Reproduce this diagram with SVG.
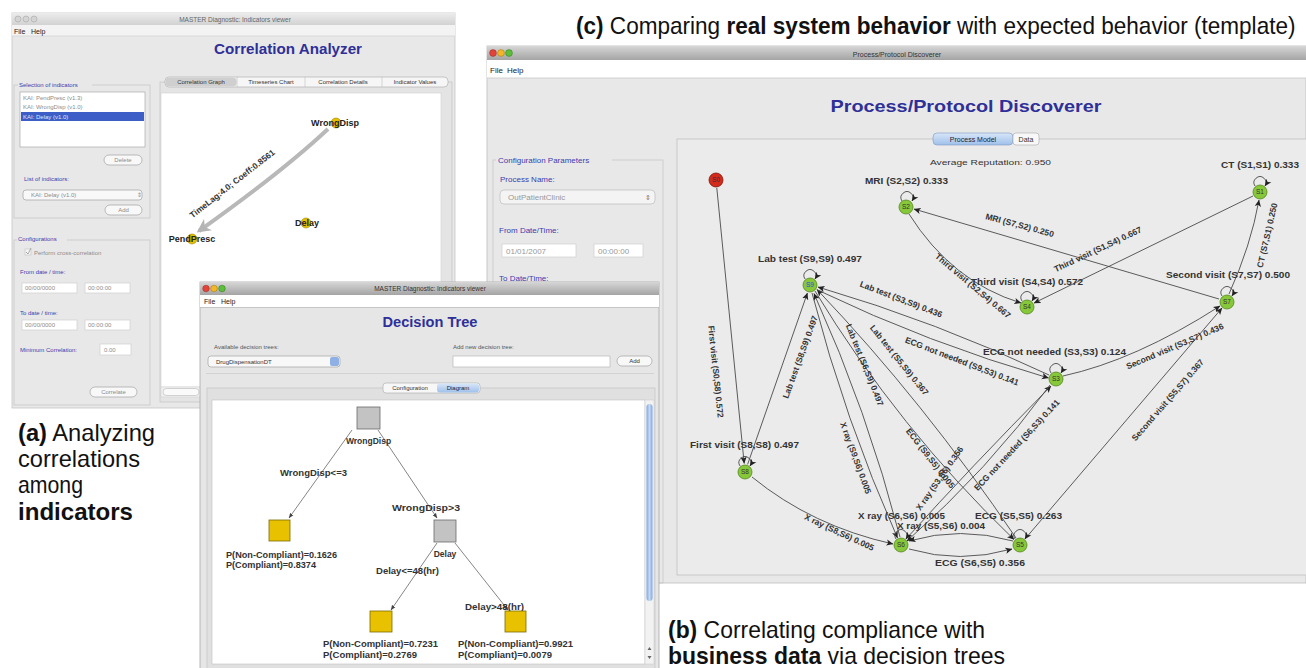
<svg xmlns="http://www.w3.org/2000/svg" width="1306" height="668" viewBox="0 0 1306 668">
<defs>
  <linearGradient id="tbIdle" x1="0" y1="0" x2="0" y2="1">
    <stop offset="0" stop-color="#ececec"/><stop offset="1" stop-color="#d2d2d2"/>
  </linearGradient>
  <linearGradient id="tbActive" x1="0" y1="0" x2="0" y2="1">
    <stop offset="0" stop-color="#d6d6d6"/><stop offset="1" stop-color="#a4a4a4"/>
  </linearGradient>
  <linearGradient id="tabSel" x1="0" y1="0" x2="0" y2="1">
    <stop offset="0" stop-color="#d8e6f8"/><stop offset="1" stop-color="#9fc0ea"/>
  </linearGradient>
  <linearGradient id="scrollBlue" x1="0" y1="0" x2="1" y2="0">
    <stop offset="0" stop-color="#7fa6e0"/><stop offset="0.5" stop-color="#c4d8f4"/><stop offset="1" stop-color="#7fa6e0"/>
  </linearGradient>
  <marker id="ah" viewBox="0 0 10 10" refX="9.5" refY="5" markerWidth="7" markerHeight="7" markerUnits="userSpaceOnUse" orient="auto">
    <path d="M0,0.5 L10,5 L0,9.5 L2.5,5 z" fill="#222"/>
  </marker>
  <marker id="tah" viewBox="0 0 10 10" refX="9.5" refY="5" markerWidth="5" markerHeight="5" markerUnits="userSpaceOnUse" orient="auto">
    <path d="M0,1 L10,5 L0,9 z" fill="#444"/>
  </marker>
  <marker id="gah" viewBox="0 0 10 10" refX="8" refY="5" markerWidth="14" markerHeight="14" markerUnits="userSpaceOnUse" orient="auto">
    <path d="M0,0 L10,5 L0,10 L3,5 z" fill="#b4b4b4"/>
  </marker>
  <style>
    text{font-family:"Liberation Sans",Arial,sans-serif}
    .s6{font-size:6px;fill:#8c8c8c}
    .s7{font-size:7px;fill:#222}
    .bl{fill:#3c3cae}
    .ttl{font-weight:bold;fill:#2f2f98;text-anchor:middle}
    .gl{font-weight:bold;font-size:8.5px;fill:#333}
    .mid{text-anchor:middle}
    .e{fill:none;stroke:#4a4a4a;stroke-width:0.9;marker-end:url(#ah)}
    .te{fill:none;stroke:#666;stroke-width:0.8;marker-end:url(#tah)}
    .nd{fill:#86c83a;stroke:#55851e;stroke-width:0.8}
    .nt{font-size:6.5px;fill:#333;text-anchor:middle}
    .btn{fill:#f8f8f8;stroke:#a2a2a2;stroke-width:0.7}
    .fld{fill:#fff;stroke:#cfcfcf;stroke-width:0.7}
    .grp{fill:none;stroke:#c8c8c8;stroke-width:0.8}
    .cap{font-size:24px;fill:#111}
    .yel{fill:#e8c200;stroke:#7d6a00;stroke-width:0.8}
    .gry{fill:#c3c3c3;stroke:#6a6a6a;stroke-width:0.8}
  </style>
</defs>

<rect width="1306" height="668" fill="#fff"/>

<!-- ===== Window: Correlation Analyzer ===== -->
<g id="win-correlation">
  <rect x="12" y="13" width="443" height="395" fill="#e8e8e8" stroke="#c6c6c6" stroke-width="0.8"/>
  <rect x="12" y="13" width="443" height="12" fill="url(#tbIdle)"/>
  <circle cx="18" cy="19" r="3" fill="#d4d4d4" stroke="#a8a8a8" stroke-width="0.6"/>
  <circle cx="26" cy="19" r="3" fill="#d4d4d4" stroke="#a8a8a8" stroke-width="0.6"/>
  <circle cx="34" cy="19" r="3" fill="#d4d4d4" stroke="#a8a8a8" stroke-width="0.6"/>
  <text x="235" y="21.5" class="mid" font-size="6.5" fill="#666">MASTER Diagnostic: Indicators viewer</text>
  <rect x="12" y="25" width="443" height="11" fill="#f3f3f3"/>
  <line x1="12" y1="36" x2="455" y2="36" stroke="#cfcfcf" stroke-width="0.6"/>
  <text x="14" y="33.5" class="s7">File</text>
  <text x="31" y="33.5" class="s7">Help</text>
  <text x="288" y="54" class="ttl" font-size="14" textLength="148" lengthAdjust="spacingAndGlyphs">Correlation Analyzer</text>

  <!-- indicator selection -->
  <rect x="14" y="85" width="136" height="133" class="grp"/>
  <rect x="18" y="81" width="74" height="8" fill="#e8e8e8"/>
  <text x="19" y="87" class="s6 bl">Selection of indicators</text>
  <rect x="20" y="92" width="125" height="55" fill="#fff" stroke="#aaa" stroke-width="0.7"/>
  <text x="23" y="99.5" class="s6">KAI: PendPresc (v1.3)</text>
  <text x="23" y="109" class="s6">KAI: WrongDisp (v1.0)</text>
  <rect x="21" y="112" width="123" height="9" fill="#3c5ec6"/>
  <text x="23" y="119" class="s6" style="fill:#dfe6ff">KAI: Delay (v1.0)</text>
  <rect x="104" y="155" width="38" height="10" rx="5" class="btn"/>
  <text x="123" y="162.3" class="s6 mid">Delete</text>
  <text x="24" y="181" class="s6 bl">List of indicators:</text>
  <rect x="23" y="190" width="119" height="10" rx="3" class="btn"/>
  <text x="31" y="197.3" class="s6">KAI: Delay (v1.0)</text>
  <text x="137" y="197.3" class="s6">⇕</text>
  <rect x="105" y="205" width="37" height="10" rx="5" class="btn"/>
  <text x="123.5" y="212.3" class="s6 mid">Add</text>

  <!-- configuration -->
  <rect x="14" y="240" width="136" height="165" class="grp"/>
  <rect x="17" y="235" width="50" height="8" fill="#e8e8e8"/>
  <text x="18" y="241" class="s6 bl">Configurations</text>
  <rect x="25" y="249" width="6" height="6" fill="#f4f4f4" stroke="#b8b8b8" stroke-width="0.5"/>
  <path d="M26,252 L28,254 L31,248" fill="none" stroke="#999" stroke-width="0.8"/>
  <text x="34" y="255" class="s6">Perform cross-correlation</text>
  <text x="20" y="274" class="s6 bl">From date / time:</text>
  <rect x="22" y="283" width="55" height="10" class="fld"/>
  <rect x="85" y="283" width="45" height="10" class="fld"/>
  <text x="25" y="290.3" class="s6">00/00/0000</text>
  <text x="88" y="290.3" class="s6">00:00:00</text>
  <text x="20" y="315" class="s6 bl">To date / time:</text>
  <rect x="22" y="320" width="55" height="10" class="fld"/>
  <rect x="85" y="320" width="45" height="10" class="fld"/>
  <text x="25" y="327.3" class="s6">00/00/0000</text>
  <text x="88" y="327.3" class="s6">00:00:00</text>
  <text x="20" y="351.5" class="s6 bl">Minimum Correlation:</text>
  <rect x="100" y="344" width="31" height="11" class="fld"/>
  <text x="104" y="351.5" class="s6">0.00</text>
  <rect x="90" y="387" width="47" height="10" rx="5" class="btn"/>
  <text x="113.5" y="394.3" class="s6 mid">Correlate</text>

  <!-- tabbed graph panel -->
  <rect x="160" y="82" width="292" height="320" fill="#e4e4e4" stroke="#c4c4c4" stroke-width="0.7"/>
  <rect x="165" y="77" width="283" height="10" rx="4" fill="#f6f6f6" stroke="#a8a8a8" stroke-width="0.6"/>
  <rect x="165.5" y="77.5" width="71" height="9" rx="4" fill="#cfcfcf"/>
  <line x1="237" y1="77" x2="237" y2="87" stroke="#b0b0b0" stroke-width="0.5"/>
  <line x1="305" y1="77" x2="305" y2="87" stroke="#b0b0b0" stroke-width="0.5"/>
  <line x1="382" y1="77" x2="382" y2="87" stroke="#b0b0b0" stroke-width="0.5"/>
  <text x="201" y="84.3" class="mid" font-size="6" fill="#333">Correlation Graph</text>
  <text x="271" y="84.3" class="mid" font-size="6" fill="#333">Timeseries Chart</text>
  <text x="343" y="84.3" class="mid" font-size="6" fill="#333">Correlation Details</text>
  <text x="415" y="84.3" class="mid" font-size="6" fill="#333">Indicator Values</text>
  <rect x="161" y="93" width="280" height="294" fill="#fff" stroke="#cfcfcf" stroke-width="0.6"/>
  <rect x="161" y="387" width="280" height="10" fill="#f0f0f0" stroke="#cfcfcf" stroke-width="0.5"/>
  <rect x="163" y="388.5" width="36" height="7" rx="3.5" fill="#fafafa" stroke="#aaa" stroke-width="0.5"/>
</g>

<!-- correlation graph -->
<g id="corr-edges">
  <path d="M328,129 Q282,172 199,231" fill="none" stroke="#b8b8b8" stroke-width="4" marker-end="url(#gah)"/>
  <text transform="translate(234,186) rotate(-38)" class="mid" font-weight="bold" font-size="8.5" fill="#333">TimeLag:4.0; Coeff:0.8561</text>
</g>
<g id="corr-wrongdisp">
  <circle cx="336" cy="123" r="5" fill="#e6c000" stroke="#a08400" stroke-width="0.6"/>
  <text x="335" y="126" class="mid" font-weight="bold" font-size="9" fill="#222">WrongDisp</text>
</g>
<g id="corr-delay">
  <circle cx="306" cy="223" r="5" fill="#e6c000" stroke="#a08400" stroke-width="0.6"/>
  <text x="307" y="226" class="mid" font-weight="bold" font-size="9" fill="#222">Delay</text>
</g>
<g id="corr-pendpresc">
  <circle cx="192" cy="239" r="5" fill="#e6c000" stroke="#a08400" stroke-width="0.6"/>
  <text x="192" y="241.5" class="mid" font-weight="bold" font-size="9" fill="#222">PendPresc</text>
</g>

<!-- ===== Window: Process/Protocol Discoverer ===== -->
<g id="win-process">
  <rect x="487" y="46" width="819" height="537" fill="#e8e8e8" stroke="#bdbdbd" stroke-width="0.8"/>
  <rect x="487" y="46" width="819" height="14" fill="url(#tbActive)"/>
  <circle cx="493" cy="53" r="3.4" fill="#e2443c" stroke="#9a2a22" stroke-width="0.5"/>
  <circle cx="501" cy="53" r="3.4" fill="#f2b628" stroke="#a07612" stroke-width="0.5"/>
  <circle cx="509" cy="53" r="3.4" fill="#5dbd3c" stroke="#2e7a1a" stroke-width="0.5"/>
  <text x="897" y="56.5" class="mid" font-size="7" fill="#333">Process/Protocol Discoverer</text>
  <rect x="487" y="60" width="819" height="18" fill="#fff"/>
  <line x1="487" y1="78" x2="1306" y2="78" stroke="#c8c8c8" stroke-width="0.8"/>
  <text x="490" y="73" font-size="8" fill="#222">File</text>
  <text x="507" y="73" font-size="8" fill="#222">Help</text>
  <text x="966" y="112" class="ttl" font-size="17" textLength="271" lengthAdjust="spacingAndGlyphs">Process/Protocol Discoverer</text>

  <!-- configuration parameters -->
  <rect x="493" y="160" width="170" height="423" class="grp"/>
  <rect x="496" y="155" width="116" height="9" fill="#e8e8e8"/>
  <text x="498" y="162.5" font-size="8" class="bl">Configuration Parameters</text>
  <text x="500" y="182" font-size="8" class="bl">Process Name:</text>
  <rect x="500" y="190" width="155" height="14" rx="4" fill="#f4f4f4" stroke="#b4b4b4" stroke-width="0.6"/>
  <text x="508" y="200" font-size="8" fill="#999">OutPatientClinic</text>
  <text x="645" y="200" font-size="7" fill="#777">⇕</text>
  <text x="499" y="233" font-size="8" class="bl">From Date/Time:</text>
  <rect x="502" y="244" width="74" height="13" class="fld"/>
  <rect x="594" y="244" width="49" height="13" class="fld"/>
  <text x="506" y="253.5" font-size="8" fill="#999">01/01/2007</text>
  <text x="598" y="253.5" font-size="8" fill="#999">00:00:00</text>
  <text x="499" y="281" font-size="8" class="bl">To Date/Time:</text>

  <!-- graph panel -->
  <rect x="677" y="139" width="640" height="436" fill="#ebebeb" stroke="#c0c0c0" stroke-width="0.8"/>
  <rect x="933" y="133" width="80" height="12" rx="4" fill="url(#tabSel)" stroke="#7c98c4" stroke-width="0.6"/>
  <rect x="1013" y="133" width="26" height="12" rx="3" fill="#f8f8f8" stroke="#a8a8a8" stroke-width="0.6"/>
  <text x="973" y="141.5" class="mid" font-size="7" fill="#223">Process Model</text>
  <text x="1026" y="141.5" class="mid" font-size="7" fill="#333">Data</text>
  <text x="930" y="165" font-size="8" fill="#333" textLength="121" lengthAdjust="spacingAndGlyphs">Average Reputation: 0.950</text>
</g>

<!-- process model connectors -->
<g id="process-edges">
  <path class="e" d="M716.8,188 L744.2,463.5"/>
  <path class="e" d="M747.6,464.4 L807.4,293"/>
  <path class="e" d="M812,293 Q845,420 897.5,538"/>
  <path class="e" d="M900,537 Q867,410 814,293.5"/>
  <path class="e" d="M815,291 Q898,428 1014,539.5"/>
  <path class="e" d="M1016,538 Q924,402 817,289.5"/>
  <path class="e" d="M817.5,290 Q928,343 1048.5,378"/>
  <path class="e" d="M1049,375 Q937,322 818,287"/>
  <path class="e" d="M1063,376 Q1136,360 1220,306"/>
  <path class="e" d="M1025,539 L1222,308"/>
  <path class="e" d="M1229,294 Q1251,245 1259,200"/>
  <path class="e" d="M1253,196 L1034,303"/>
  <path class="e" d="M1219,299 L914,209"/>
  <path class="e" d="M909,214 Q952,282 1021,303"/>
  <path class="e" d="M752,477 Q812,526 893,544"/>
  <path class="e" d="M1013,541 Q960,526 909,541"/>
  <path class="e" d="M909,549 Q960,564 1012,549"/>
  <path class="e" d="M906,539 Q970,468 1051,386"/>
  <path class="e" d="M1050,385 Q988,470 907,541"/>
  <!-- self loops -->
  <path class="e" d="M902,201 A6 6 0 1 1 912,201"/>
  <path class="e" d="M1255,186 A6 6 0 1 1 1265,186"/>
  <path class="e" d="M805,279 A6 6 0 1 1 815,279"/>
  <path class="e" d="M1022,301 A6 6 0 1 1 1032,301"/>
  <path class="e" d="M1222,296 A6 6 0 1 1 1232,296"/>
  <path class="e" d="M1051,373 A6 6 0 1 1 1061,373"/>
  <path class="e" d="M740,466 A6 6 0 1 1 750,466"/>
  <path class="e" d="M896,539 A6 6 0 1 1 906,539"/>
  <path class="e" d="M1015,539 A6 6 0 1 1 1025,539"/>

  <!-- edge labels -->
  <text class="gl mid" transform="translate(713,372) rotate(84)">First visit (S0,S8) 0.572</text>
  <text class="gl mid" transform="translate(803,358) rotate(-70)">Lab test (S8,S9) 0.497</text>
  <text class="gl mid" transform="translate(853,459) rotate(70)">X ray (S9,S6) 0.005</text>
  <text class="gl mid" transform="translate(862,366) rotate(68)">Lab test (S6,S9) 0.497</text>
  <text class="gl mid" transform="translate(897,362) rotate(51)">Lab test (S5,S9) 0.367</text>
  <text class="gl mid" transform="translate(900,302) rotate(21)">Lab test (S3,S9) 0.436</text>
  <text class="gl mid" transform="translate(961,364) rotate(21)">ECG not needed (S9,S3) 0.141</text>
  <text class="gl mid" transform="translate(928,460) rotate(52)">ECG (S9,S5) 0.005</text>
  <text class="gl mid" transform="translate(942,480) rotate(-55)">X ray (S3,S6) 0.356</text>
  <text class="gl mid" transform="translate(1019,447) rotate(-47)">ECG not needed (S6,S3) 0.141</text>
  <text class="gl mid" transform="translate(1176,349) rotate(-23)">Second visit (S3,S7) 0.436</text>
  <text class="gl mid" transform="translate(1170,402) rotate(-49)">Second visit (S5,S7) 0.367</text>
  <text class="gl mid" transform="translate(1270,236) rotate(-77)">CT (S7,S1) 0.250</text>
  <text class="gl mid" transform="translate(1099,252) rotate(-25)">Third visit (S1,S4) 0.667</text>
  <text class="gl mid" transform="translate(1019,228) rotate(15)">MRI (S7,S2) 0.250</text>
  <text class="gl mid" transform="translate(971,288) rotate(40)">Third visit (S2,S4) 0.667</text>
  <text class="gl mid" transform="translate(838,535) rotate(25)">X ray (S8,S6) 0.005</text>
  <text class="gl" x="865" y="184" textLength="83" lengthAdjust="spacingAndGlyphs">MRI (S2,S2) 0.333</text>
  <text class="gl" x="1221" y="168" textLength="78" lengthAdjust="spacingAndGlyphs">CT (S1,S1) 0.333</text>
  <text class="gl" x="758" y="262" textLength="104" lengthAdjust="spacingAndGlyphs">Lab test (S9,S9) 0.497</text>
  <text class="gl" x="971" y="285" textLength="112" lengthAdjust="spacingAndGlyphs">Third visit (S4,S4) 0.572</text>
  <text class="gl" x="1166" y="278" textLength="124" lengthAdjust="spacingAndGlyphs">Second visit (S7,S7) 0.500</text>
  <text class="gl" x="983" y="355" textLength="143" lengthAdjust="spacingAndGlyphs">ECG not needed (S3,S3) 0.124</text>
  <text class="gl" x="690" y="448" textLength="109" lengthAdjust="spacingAndGlyphs">First visit (S8,S8) 0.497</text>
  <text class="gl" x="858" y="519" textLength="87" lengthAdjust="spacingAndGlyphs">X ray (S6,S6) 0.005</text>
  <text class="gl" x="897" y="529" textLength="88" lengthAdjust="spacingAndGlyphs">X ray (S5,S6) 0.004</text>
  <text class="gl" x="975" y="519" textLength="87" lengthAdjust="spacingAndGlyphs">ECG (S5,S5) 0.263</text>
  <text class="gl" x="935" y="566" textLength="90" lengthAdjust="spacingAndGlyphs">ECG (S6,S5) 0.356</text>
</g>

<g id="node-S0"><circle cx="716" cy="180" r="7" fill="#d42a1c" stroke="#7a140c" stroke-width="0.8"/><text x="716" y="182.3" class="nt">S0</text></g>
<g id="node-S1"><circle cx="1260" cy="192" r="7" class="nd"/><text x="1260" y="194.3" class="nt">S1</text></g>
<g id="node-S2"><circle cx="906" cy="207" r="7" class="nd"/><text x="906" y="209.3" class="nt">S2</text></g>
<g id="node-S3"><circle cx="1056" cy="379" r="7" class="nd"/><text x="1056" y="381.3" class="nt">S3</text></g>
<g id="node-S4"><circle cx="1027" cy="307" r="7" class="nd"/><text x="1027" y="309.3" class="nt">S4</text></g>
<g id="node-S5"><circle cx="1020" cy="545" r="7" class="nd"/><text x="1020" y="547.3" class="nt">S5</text></g>
<g id="node-S6"><circle cx="901" cy="545" r="7" class="nd"/><text x="901" y="547.3" class="nt">S6</text></g>
<g id="node-S7"><circle cx="1227" cy="302" r="7" class="nd"/><text x="1227" y="304.3" class="nt">S7</text></g>
<g id="node-S8"><circle cx="745" cy="472" r="7" class="nd"/><text x="745" y="474.3" class="nt">S8</text></g>
<g id="node-S9"><circle cx="810" cy="285" r="7" class="nd"/><text x="810" y="287.3" class="nt" style="fill:#2a4fc8">S9</text></g>

<!-- ===== Window: Decision Tree ===== -->
<g id="win-decision">
  <rect x="200" y="282" width="459" height="390" fill="#e6e6e6" stroke="#a8a8a8" stroke-width="0.8"/>
  <rect x="200" y="282" width="459" height="13" fill="url(#tbActive)"/>
  <circle cx="206" cy="288.5" r="3.3" fill="#e2443c" stroke="#9a2a22" stroke-width="0.5"/>
  <circle cx="214" cy="288.5" r="3.3" fill="#f2b628" stroke="#a07612" stroke-width="0.5"/>
  <circle cx="222" cy="288.5" r="3.3" fill="#5dbd3c" stroke="#2e7a1a" stroke-width="0.5"/>
  <text x="430" y="291" class="mid" font-size="6.5" fill="#333">MASTER Diagnostic: Indicators viewer</text>
  <rect x="200" y="295" width="459" height="12" fill="#fff"/>
  <line x1="200" y1="307.5" x2="659" y2="307.5" stroke="#bdbdbd" stroke-width="0.8"/>
  <text x="204" y="303.5" class="s7">File</text>
  <text x="221" y="303.5" class="s7">Help</text>
  <text x="430" y="327" class="ttl" font-size="14" textLength="95" lengthAdjust="spacingAndGlyphs">Decision Tree</text>
  <text x="214" y="349" class="s6" style="fill:#555">Available decision trees:</text>
  <rect x="208" y="356" width="132" height="11" rx="3" class="btn"/>
  <rect x="330" y="357" width="9" height="9" rx="2" fill="#8fb0e4"/>
  <text x="216" y="363.5" class="s6" style="fill:#333">DrugDispensationDT</text>
  <text x="453" y="349" class="s6" style="fill:#555">Add new decision tree:</text>
  <rect x="453" y="356" width="157" height="11" class="fld" style="stroke:#b8b8b8"/>
  <rect x="617" y="356" width="35" height="10" rx="5" class="btn"/>
  <text x="634.5" y="363.3" class="s6 mid" style="fill:#333">Add</text>
  <line x1="206" y1="373.5" x2="654" y2="373.5" stroke="#c9c9c9" stroke-width="0.7"/>
  <rect x="207" y="388" width="448" height="284" fill="#e0e0e0" stroke="#c2c2c2" stroke-width="0.7"/>
  <rect x="383" y="383" width="97" height="10" rx="3" fill="#f7f7f7" stroke="#a8a8a8" stroke-width="0.6"/>
  <rect x="437" y="383.5" width="42" height="9" rx="3" fill="url(#tabSel)"/>
  <text x="410" y="390.3" class="mid" font-size="6" fill="#333">Configuration</text>
  <text x="458" y="390.3" class="mid" font-size="6" fill="#223">Diagram</text>
  <rect x="212" y="400" width="433" height="264" fill="#fff" stroke="#c0c0c0" stroke-width="0.6"/>
  <rect x="645" y="400" width="9" height="264" fill="#f2f2f2" stroke="#c8c8c8" stroke-width="0.5"/>
  <rect x="646.5" y="404" width="6" height="197" rx="3" fill="url(#scrollBlue)"/>
  <path d="M647.5,650 L649.5,647 L651.5,650 z M647.5,656 L649.5,659 L651.5,656 z" fill="#666"/>
</g>

<!-- decision tree connectors -->
<g id="tree-edges">
  <path class="te" d="M352,430 L289,518"/>
  <path class="te" d="M378,430 L437,518"/>
  <path class="te" d="M437,543 L391,610"/>
  <path class="te" d="M455,543 L508,610"/>
  <text class="gl" x="280" y="475.5" textLength="67" lengthAdjust="spacingAndGlyphs">WrongDisp&lt;=3</text>
  <text class="gl" x="392" y="511" textLength="68" lengthAdjust="spacingAndGlyphs">WrongDisp&gt;3</text>
  <text class="gl" x="376" y="574" textLength="63" lengthAdjust="spacingAndGlyphs">Delay&lt;=48(hr)</text>
  <text class="gl" x="465" y="609.5" textLength="59" lengthAdjust="spacingAndGlyphs">Delay&gt;48(hr)</text>
</g>
<g id="tree-wrongdisp">
  <rect x="357" y="407" width="23" height="22" class="gry"/>
  <text x="368.5" y="444" class="gl mid">WrongDisp</text>
</g>
<g id="tree-leaf1">
  <rect x="269" y="520" width="21" height="21" class="yel"/>
  <text x="226" y="557.5" class="gl" textLength="111" lengthAdjust="spacingAndGlyphs">P(Non-Compliant)=0.1626</text>
  <text x="226" y="567.5" class="gl" textLength="90" lengthAdjust="spacingAndGlyphs">P(Compliant)=0.8374</text>
</g>
<g id="tree-delay">
  <rect x="434" y="520" width="22" height="22" class="gry"/>
  <text x="445" y="557" class="gl mid">Delay</text>
</g>
<g id="tree-leaf2">
  <rect x="370" y="611" width="22" height="21" class="yel"/>
  <text x="323" y="647" class="gl" textLength="115" lengthAdjust="spacingAndGlyphs">P(Non-Compliant)=0.7231</text>
  <text x="323" y="657.5" class="gl" textLength="94" lengthAdjust="spacingAndGlyphs">P(Compliant)=0.2769</text>
</g>
<g id="tree-leaf3">
  <rect x="505" y="611" width="21" height="21" class="yel"/>
  <text x="458" y="647" class="gl" textLength="115" lengthAdjust="spacingAndGlyphs">P(Non-Compliant)=0.9921</text>
  <text x="458" y="657.5" class="gl" textLength="94" lengthAdjust="spacingAndGlyphs">P(Compliant)=0.0079</text>
</g>

<!-- ===== captions ===== -->
<g id="captions">
  <text transform="translate(576,34) scale(0.94,1)" class="cap"><tspan font-weight="bold">(c)</tspan> Comparing <tspan font-weight="bold">real system behavior</tspan> with expected behavior (template)</text>
  <text x="18" y="441" class="cap" textLength="137" lengthAdjust="spacingAndGlyphs"><tspan font-weight="bold">(a)</tspan> Analyzing</text>
  <text x="18" y="467" class="cap" textLength="122" lengthAdjust="spacingAndGlyphs">correlations</text>
  <text x="18" y="493" class="cap" textLength="65" lengthAdjust="spacingAndGlyphs">among</text>
  <text x="18" y="520" class="cap" font-weight="bold" textLength="115" lengthAdjust="spacingAndGlyphs">indicators</text>
  <text x="668" y="638" class="cap" textLength="317" lengthAdjust="spacingAndGlyphs"><tspan font-weight="bold">(b)</tspan> Correlating compliance with</text>
  <text x="668" y="664" class="cap" textLength="337" lengthAdjust="spacingAndGlyphs"><tspan font-weight="bold">business data</tspan> via decision trees</text>
</g>
</svg>
